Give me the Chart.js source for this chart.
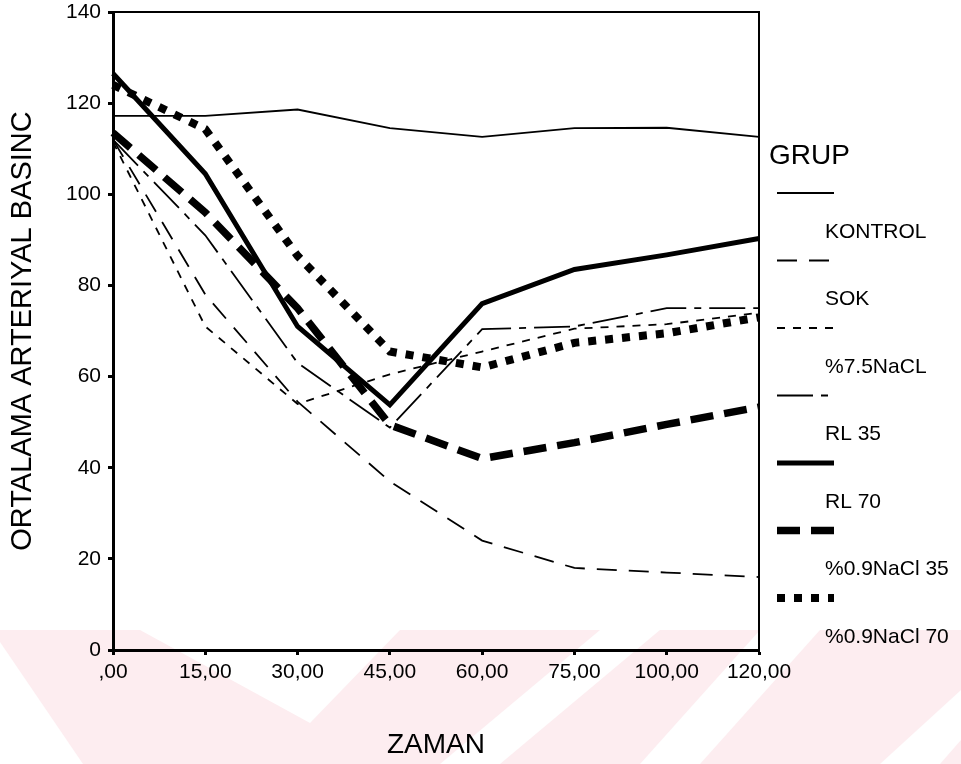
<!DOCTYPE html>
<html>
<head>
<meta charset="utf-8">
<script src="https://cdn.jsdelivr.net/npm/chart.js@4"></script>
<style>
  html, body { margin: 0; padding: 0; background: #fff; }
  #c { display: block; }
</style>
</head>
<body>
<canvas id="c" width="961" height="764"></canvas>
<script>
// ---- data ----
const xLabels = [',00', '15,00', '30,00', '45,00', '60,00', '75,00', '100,00', '120,00'];
const yTickValues = [0, 20, 40, 60, 80, 100, 120, 140];
const seriesNames = ['KONTROL', 'SOK', '%7.5NaCL', 'RL 35', 'RL 70', '%0.9NaCl 35', '%0.9NaCl 70'];
const kontrol  = [117.2, 117.2, 118.6, 114.5, 112.6, 114.5, 114.6, 112.6];
const sok      = [112, 78, 54.5, 37, 24, 18, 17, 16];
const nacl75   = [111.5, 71, 54, 60.5, 65.5, 70.5, 71.5, 74];
const rl35     = [112, 91, 63, 48.8, 70.4, 71, 75, 75];
const rl70     = [126.5, 104.5, 71, 53.8, 76, 83.5, 86.7, 90.3];
const nacl35   = [113.5, 96, 75, 49.4, 42, 45.5, 49.5, 53.3];
const nacl70   = [124, 114.3, 86.5, 65.5, 62, 67.4, 69.5, 73];
const legendTitle = 'GRUP';
const xTitle = 'ZAMAN';
const yTitle = 'ORTALAMA ARTERIYAL BASINC';

const seriesValues = [kontrol, sok, nacl75, rl35, rl70, nacl35, nacl70];
const seriesStyles = [
  { w: 1.8, dash: [] },
  { w: 1.8, dash: [20, 12] },
  { w: 1.8, dash: [8, 8] },
  { w: 1.8, dash: [36, 8, 7, 8] },
  { w: 5,   dash: [] },
  { w: 7.5, dash: [23, 11] },
  { w: 8,   dash: [8, 9] }
];

const FONT = "'Liberation Sans', Arial, sans-serif";

// background watermark (decorative)
const watermark = {
  id: 'watermark',
  beforeDraw(chart) {
    const ctx = chart.ctx;
    ctx.save();
    ctx.fillStyle = '#fff';
    ctx.fillRect(0, 0, chart.width, chart.height);
    ctx.fillStyle = '#fdedf0';
    ctx.fillRect(0, 630, chart.width, chart.height - 630);
    ctx.fillStyle = '#fff';
    const polys = [
      [[0, 642], [0, 764], [83, 764]],
      [[140, 630], [310, 723], [400, 630]],
      [[440, 764], [500, 764], [660, 630], [600, 630]],
      [[640, 764], [700, 764], [820, 630], [760, 630]],
      [[880, 764], [940, 764], [961, 740], [961, 690]]
    ];
    for (const p of polys) {
      ctx.beginPath();
      ctx.moveTo(p[0][0], p[0][1]);
      for (let i = 1; i < p.length; i++) ctx.lineTo(p[i][0], p[i][1]);
      ctx.closePath();
      ctx.fill();
    }
    ctx.restore();
  }
};

const frameAndLegend = {
  id: 'frameAndLegend',
  afterDraw(chart) {
    const ctx = chart.ctx;
    const a = chart.chartArea;
    ctx.save();
    ctx.strokeStyle = '#000';
    ctx.lineWidth = 2;
    ctx.setLineDash([]);
    ctx.beginPath();
    ctx.moveTo(a.left, a.top);
    ctx.lineTo(a.right, a.top);
    ctx.lineTo(a.right, a.bottom);
    ctx.stroke();

    // legend
    ctx.fillStyle = '#000';
    ctx.textBaseline = 'middle';
    ctx.textAlign = 'left';
    ctx.font = '28px ' + FONT;
    ctx.fillText(legendTitle, 769, 156);
    const ds = chart.data.datasets;
    for (let i = 0; i < ds.length; i++) {
      const y = 193 + i * 67.5;
      ctx.strokeStyle = '#000';
      ctx.lineWidth = ds[i].borderWidth;
      ctx.setLineDash(ds[i].borderDash || []);
      ctx.lineCap = 'butt';
      ctx.beginPath();
      ctx.moveTo(777, y);
      ctx.lineTo(834, y);
      ctx.stroke();
      ctx.setLineDash([]);
      ctx.font = '21px ' + FONT;
      ctx.fillText(ds[i].label, 825, y + 39);
    }
    ctx.restore();
  }
};

const datasets = seriesNames.map((name, i) => ({
  label: name,
  data: seriesValues[i],
  borderColor: '#000',
  backgroundColor: '#000',
  borderWidth: seriesStyles[i].w,
  borderDash: seriesStyles[i].dash,
  pointRadius: 0,
  pointHoverRadius: 0,
  tension: 0,
  fill: false
}));

new Chart(document.getElementById('c'), {
  type: 'line',
  data: { labels: xLabels, datasets },
  plugins: [watermark, frameAndLegend],
  options: {
    responsive: false,
    animation: false,
    devicePixelRatio: 1,
    layout: { padding: { top: 12, right: 202, left: 0, bottom: 0 } },
    plugins: { legend: { display: false }, tooltip: { enabled: false } },
    scales: {
      x: {
        type: 'category',
        offset: false,
        afterFit(scale) { scale.height = 114; scale.paddingLeft = 0; scale.paddingRight = 0; },
        grid: { display: true, drawOnChartArea: false, drawTicks: true, tickLength: 5, tickWidth: 3, tickColor: '#000' },
        border: { display: true, color: '#000', width: 3 },
        ticks: { color: '#000', font: { family: FONT, size: 21 }, padding: 5, maxRotation: 0, autoSkip: false },
        title: { display: true, text: xTitle, color: '#000', font: { family: FONT, size: 28 }, padding: { top: 0, bottom: 2 } }
      },
      y: {
        min: yTickValues[0],
        max: yTickValues[yTickValues.length - 1],
        afterFit(scale) { scale.width = 113; scale.paddingTop = 0; scale.paddingBottom = 0; },
        afterBuildTicks(scale) { scale.ticks = yTickValues.map(v => ({ value: v })); },
        grid: { display: true, drawOnChartArea: false, drawTicks: true, tickLength: 5, tickWidth: 3, tickColor: '#000' },
        border: { display: true, color: '#000', width: 3 },
        ticks: { color: '#000', font: { family: FONT, size: 21 }, padding: 7 },
        title: { display: true, text: yTitle, color: '#000', font: { family: FONT, size: 29 }, padding: { top: 6, bottom: 0 } }
      }
    }
  }
});
</script>
</body>
</html>
